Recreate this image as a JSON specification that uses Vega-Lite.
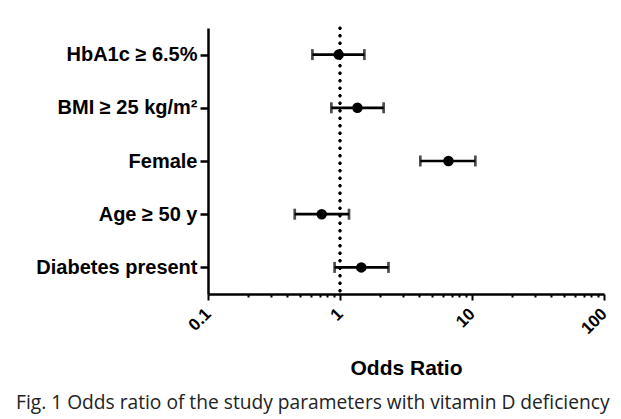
{
  "$schema": "https://vega.github.io/schema/vega-lite/v6.json",
  "autosize": "none",
  "width": 396,
  "height": 266,
  "padding": {"left": 208, "top": 28, "right": 17, "bottom": 125},
  "background": "white",
  "title": {
    "text": "Fig. 1 Odds ratio of the study parameters with vitamin D deficiency",
    "orient": "bottom",
    "anchor": "start",
    "frame": "group",
    "font": "Open Sans",
    "fontSize": 19.2,
    "fontWeight": "normal",
    "color": "#222222",
    "dx": -192,
    "offset": 15
  },
  "data": {
    "values": [
      {"param": "HbA1c ≥ 6.5%", "or": 0.977, "lo": 0.618, "hi": 1.53},
      {"param": "BMI ≥ 25 kg/m²", "or": 1.355, "lo": 0.86, "hi": 2.14},
      {"param": "Female", "or": 6.63, "lo": 4.06, "hi": 10.6},
      {"param": "Age ≥ 50 y", "or": 0.727, "lo": 0.454, "hi": 1.17},
      {"param": "Diabetes present", "or": 1.45, "lo": 0.91, "hi": 2.33}
    ]
  },
  "encoding": {
    "y": {
      "field": "param",
      "type": "nominal",
      "sort": null,
      "scale": {"type": "point", "padding": 0.5},
      "axis": {
        "title": null,
        "labelFont": "Liberation Sans",
        "labelFontWeight": "bold",
        "labelFontSize": 20,
        "labelColor": "black",
        "labelPadding": 3,
        "tickSize": 8,
        "tickWidth": 2.5,
        "tickColor": "black",
        "domainColor": "black",
        "domainWidth": 2.5,
        "grid": false
      }
    }
  },
  "layer": [
    {
      "mark": {"type": "rule", "strokeDash": [0.5, 7], "strokeCap": "round", "strokeWidth": 2.6, "color": "black"},
      "encoding": {"x": {"datum": 1, "type": "quantitative"}, "y": null}
    },
    {
      "mark": {"type": "rule", "strokeWidth": 2.7, "color": "black"},
      "encoding": {
        "x": {
          "field": "lo",
          "type": "quantitative",
          "scale": {"type": "log", "domain": [0.1, 100], "nice": false},
          "axis": {
            "title": "Odds Ratio",
            "titleFont": "Liberation Sans",
            "titleFontWeight": "bold",
            "titleFontSize": 21,
            "titleColor": "black",
            "titlePadding": 21,
            "values": [0.1, 0.2, 0.3, 0.4, 0.5, 0.6, 0.7, 0.8, 0.9, 1, 2, 3, 4, 5, 6, 7, 8, 9, 10, 20, 30, 40, 50, 60, 70, 80, 90, 100],
            "labelExpr": "indexof([0.1, 1, 10, 100], datum.value) >= 0 ? toString(datum.value) : ''",
            "labelOverlap": false,
            "labelFlush": false,
            "labelAngle": -45,
            "labelAlign": "right",
            "labelBaseline": "middle",
            "labelPadding": 11,
            "labelFont": "Liberation Sans",
            "labelFontWeight": "bold",
            "labelFontSize": 17,
            "labelColor": "black",
            "tickSize": {"condition": {"test": "indexof([0.1, 1, 10, 100], datum.value) >= 0", "value": 6}, "value": 3},
            "tickWidth": 2,
            "tickColor": "black",
            "domainColor": "black",
            "domainWidth": 2.5,
            "grid": false
          }
        },
        "x2": {"field": "hi"}
      }
    },
    {
      "mark": {"type": "tick", "orient": "vertical", "size": 11, "thickness": 2.7, "color": "black"},
      "encoding": {"x": {"field": "lo", "type": "quantitative"}}
    },
    {
      "mark": {"type": "tick", "orient": "vertical", "size": 11, "thickness": 2.7, "color": "black"},
      "encoding": {"x": {"field": "hi", "type": "quantitative"}}
    },
    {
      "mark": {"type": "point", "filled": true, "shape": "circle", "size": 110, "opacity": 1, "color": "black"},
      "encoding": {"x": {"field": "or", "type": "quantitative"}}
    }
  ],
  "config": {"view": {"stroke": null}}
}
